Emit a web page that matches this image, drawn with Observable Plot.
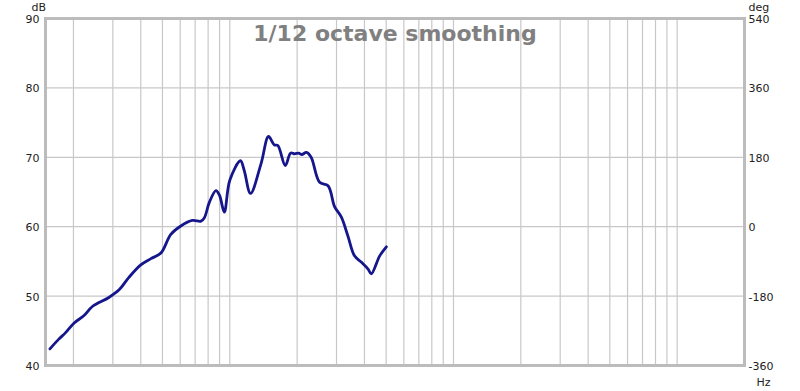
<!DOCTYPE html>
<html>
<head>
<meta charset="utf-8">
<script src="https://cdn.jsdelivr.net/npm/d3@7"></script>
<script src="https://cdn.jsdelivr.net/npm/@observablehq/plot@0.6"></script>
<style>
  html, body { margin: 0; padding: 0; background: #fff; }
  #chart { width: 800px; height: 391px; }
</style>
</head>
<body>
<div id="chart"></div>
<script>
// Frequency (Hz) and SPL (dB)
const freq = [15.7, 17.2, 18.4, 20.1, 22.3, 24.3, 28.8, 32, 35.4, 40, 44.4, 49.2, 54.5, 60.4, 68, 74.3, 77, 81, 86.7, 90, 94.5, 100, 111.6, 116, 123.8, 138, 149, 158, 164, 177, 187, 195, 203, 210, 220, 231, 252, 275, 294, 315, 337, 361, 387, 415, 429, 468, 501];
const spl  = [42.4, 43.8, 44.7, 46.1, 47.2, 48.5, 49.8, 50.9, 52.7, 54.5, 55.4, 56.2, 58.9, 60.1, 60.9, 60.8, 61.3, 63.5, 65.2, 64.5, 62.1, 66.7, 69.5, 68.1, 64.8, 69.1, 73.0, 71.8, 71.7, 68.8, 70.6, 70.5, 70.6, 70.4, 70.7, 70.0, 66.4, 65.9, 62.9, 61.4, 58.7, 55.8, 54.9, 53.9, 53.2, 55.8, 57.1];

const xTicks = [15, 20, 30, 40, 50, 70, 100, 200, 300, 500, 700, 1000, 2000, 3000, 4000, 5000, 7000, 10000, 20000];
const xTickLabels = ["15", "20", "30", "40", "50", "70", "100", "200", "300", "500", "700", "1k", "2k", "3k", "4k", "5k", "7k", "10k", "20,0k"];
const xGrid = [20, 30, 40, 50, 60, 70, 80, 90, 100, 200, 300, 400, 500, 600, 700, 800, 900, 1000, 2000, 3000, 4000, 5000, 6000, 7000, 8000, 9000, 10000];
const yTicks = [40, 50, 60, 70, 80, 90];
const yGrid = [50, 60, 70, 80];
const degLabels = ["-360", "-180", "0", "180", "360", "540"];
const title = "1/12 octave smoothing";

const data = freq.map((f, i) => ({f, db: spl[i]}));
const font = "DejaVu Sans, Verdana, sans-serif";

const chart = Plot.plot({
  width: 800,
  height: 391,
  marginLeft: 45,
  marginRight: 56,
  marginTop: 18,
  marginBottom: 26,
  style: {fontFamily: font, fontSize: "11px", color: "#222", background: "#fff"},
  x: {type: "log", domain: [15, 20000]},
  y: {domain: [40, 90]},
  marks: [
    Plot.ruleX(xGrid, {stroke: "#c8c8c8", strokeWidth: 1.2}),
    Plot.ruleY(yGrid, {stroke: "#c8c8c8", strokeWidth: 1.2}),
    Plot.text([title], {frameAnchor: "top", lineAnchor: "middle", dy: 15, fontSize: 22, fontWeight: "bold", fill: "#808080", fontFamily: font}),
    Plot.line(data, {x: "f", y: "db", stroke: "#16168c", strokeWidth: 2.8, curve: "catmull-rom"}),
    Plot.frame({stroke: "#bcbcbc", strokeWidth: 3}),
    Plot.axisX({ticks: xTicks, tickFormat: (d, i) => xTickLabels[i], tickSize: 0, tickPadding: 11, fontSize: 11, label: null}),
    Plot.axisY({ticks: yTicks, tickSize: 0, tickPadding: 6, fontSize: 11, dy: 1, label: null, anchor: "left"}),
    Plot.axisY({ticks: yTicks, tickFormat: (d, i) => degLabels[i], tickSize: 0, tickPadding: 4, fontSize: 11, dy: 1, label: null, anchor: "right", textAnchor: "start"}),
    Plot.text(["dB"], {frameAnchor: "top-left", lineAnchor: "middle", dx: -14, dy: -11, fontSize: 11, fill: "#222"}),
    Plot.text(["deg"], {frameAnchor: "top-right", lineAnchor: "middle", textAnchor: "start", dx: 4, dy: -11, fontSize: 11, fill: "#222"}),
    Plot.text(["Hz"], {frameAnchor: "bottom-right", lineAnchor: "middle", textAnchor: "start", dx: 12, dy: 17, fontSize: 11, fill: "#222"})
  ]
});
document.getElementById("chart").appendChild(chart);
</script>
</body>
</html>
